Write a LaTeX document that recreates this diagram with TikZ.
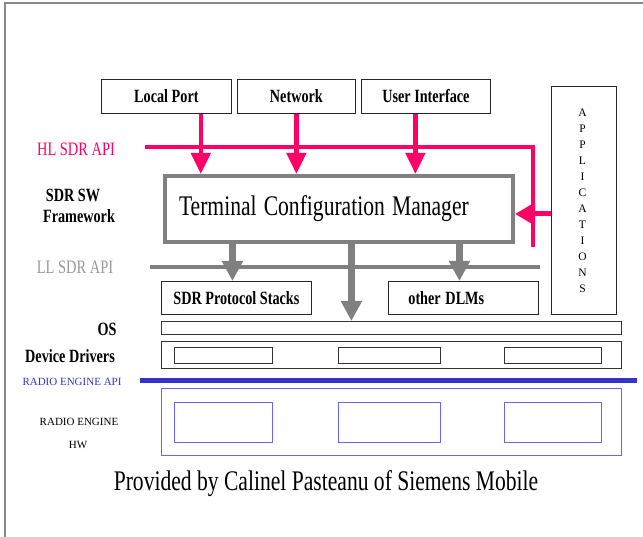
\documentclass[tikz,border=0pt]{standalone}
\usepackage{fontspec}
\usepackage{graphicx}
\setmainfont{Liberation Serif}
\newcommand{\cz}[1]{\scalebox{0.76}[1]{#1}}
\usetikzlibrary{arrows.meta}
\definecolor{hlpink}{HTML}{FF0066}
\definecolor{llgray}{HTML}{808080}
\definecolor{llgraytxt}{HTML}{999999}
\definecolor{reblue}{HTML}{3333CC}
\definecolor{rebox}{HTML}{6666EE}
\definecolor{framegray}{HTML}{888888}
\begin{document}
\begin{tikzpicture}[x=1pt,y=-1pt,
  boldlbl/.style={font=\bfseries\fontsize{18.7}{20}\selectfont, inner sep=0pt, anchor=base},
  sidelbl/.style={font=\fontsize{19}{20}\selectfont, inner sep=0pt, anchor=base},
  smalllbl/.style={font=\fontsize{11}{12}\selectfont, inner sep=0pt, anchor=base},
  sbox/.style={draw=black!85, line width=0.8pt, anchor=north west, inner sep=0pt,
    font=\bfseries\fontsize{18.7}{20}\selectfont},
  ibox/.style={draw=black!80, line width=0.8pt, anchor=north west, inner sep=0pt, minimum height=16pt},
  rbox/.style={draw=rebox, line width=0.9pt, anchor=north west, inner sep=0pt, minimum height=40pt},
  pinkarr/.style={draw=hlpink, line width=4.5pt, -{Triangle[width=19pt,length=21pt]}},
  grayarr/.style={draw=llgray, line width=7pt, -{Triangle[width=20pt,length=20pt]}},
]
\useasboundingbox (0,0) rectangle (643,537);
\fill[white] (0,0) rectangle (643,537);
% frame
\draw[framegray, line width=1.5pt] (5,537) -- (5,3) -- (643,3);

% top boxes
\node[sbox, minimum width=130pt, minimum height=34pt] (lp) at (101,79) {\cz{Local Port}};
\node[sbox, minimum width=118pt, minimum height=34pt] (net) at (237,79) {\cz{Network}};
\node[sbox, minimum width=129pt, minimum height=34pt] (ui) at (361,79) {\cz{User Interface}};

% applications
\node[draw=black!85, line width=0.8pt, anchor=north west, inner sep=0pt,
  minimum width=65pt, minimum height=228pt] (app) at (551,86) {};
\node[font=\fontsize{11.5}{16}\selectfont, align=center, inner sep=0pt, anchor=north]
  (apptxt) at (582.5,108.5) {A\\P\\P\\L\\I\\C\\A\\T\\I\\O\\N\\S};

% TCM
\node[draw=llgray, line width=4pt, anchor=north west, inner xsep=14pt, inner ysep=0pt,
  minimum width=348pt, minimum height=66pt, text width=320pt, align=left,
  font=\fontsize{28.4}{30}\selectfont] (tcm) at (163,174) {\cz{Terminal Configuration Manager}};

% HL SDR API line
\coordinate (hlA) at (145,147);
\coordinate (hlB) at (533,147);
\coordinate (hlC) at (533,247);
\draw[hlpink, line width=4pt] (hlA) -- (hlB) -- (hlC);
\node[sidelbl, text=hlpink] (hl) at (76,156) {\cz{HL SDR API}};

% pink arrows
\path ([xshift=-31pt]lp.south east) coordinate (lpA);
\draw[pinkarr] (lpA) -- (lpA |- tcm.north);
\draw[pinkarr] (net.south) -- (net.south |- tcm.north);
\path ([xshift=-10.5pt]ui.south) coordinate (uiA);
\draw[pinkarr] (uiA) -- (uiA |- tcm.north);
\coordinate (appy) at (0,214);
\draw[draw=hlpink, line width=5pt, -{Triangle[width=22pt,length=20pt]}] (app.west |- appy) -- (tcm.east |- appy);

% side labels
\node[boldlbl] (sw1) at (73,202) {\cz{SDR SW}};
\node[boldlbl] (sw2) at (79,223) {\cz{Framework}};
\node[sidelbl, text=llgraytxt] (ll) at (75,274) {\cz{LL SDR API}};

% LL SDR API line
\coordinate (llA) at (150,267);
\coordinate (llB) at (540,267);
\draw[llgray, line width=4.5pt] (llA) -- (llB);

% DLM boxes
\node[sbox, minimum width=150pt, minimum height=33pt] (ps) at (161,281) {\cz{SDR Protocol Stacks}};
\node[sbox, minimum width=150pt, minimum height=33pt, text width=110pt, align=left, inner xsep=20pt] (dlm) at (388,281) {\cz{other DLMs}};

% OS and drivers
\node[ibox, minimum width=460pt, minimum height=13pt] (os) at (161,321) {};
\node[ibox, minimum width=460pt, minimum height=27pt] (dd) at (161,341) {};
\node[ibox, minimum width=98pt] (dd1) at (174,347) {};
\node[ibox, minimum width=102pt] (dd2) at (338,347) {};
\node[ibox, minimum width=97pt] (dd3) at (504,347) {};
\node[boldlbl] (oslbl) at (107,336) {\cz{OS}};
\node[boldlbl] (ddlbl) at (70,363) {\cz{Device Drivers}};

% gray arrows
\path ([xshift=-4pt]ps.north) coordinate (g1);
\draw[grayarr] (tcm.south -| g1) -- (g1);
\path ([xshift=-40pt]os.north) coordinate (g2);
\draw[grayarr] (tcm.south -| g2) -- (g2);
\path ([xshift=-4pt]dlm.north) coordinate (g3);
\draw[grayarr] (tcm.south -| g3) -- (g3);

% radio engine API
\coordinate (reA) at (140,381);
\coordinate (reB) at (637,381);
\draw[reblue, line width=5pt] (reA) -- (reB);
\node[smalllbl, text=reblue] (reapi) at (72,385) {RADIO ENGINE API};

% radio engine hw
\node[draw=rebox, line width=0.9pt, anchor=north west, inner sep=0pt,
  minimum width=460pt, minimum height=67pt] (rehw) at (161,388) {};
\node[rbox, minimum width=98pt] (re1) at (174,402) {};
\node[rbox, minimum width=102pt] (re2) at (338,402) {};
\node[rbox, minimum width=97pt] (re3) at (504,402) {};
\node[smalllbl] (relbl) at (79,425) {RADIO ENGINE};
\node[smalllbl] (hwlbl) at (78,448) {HW};

% caption
\node[font=\fontsize{28.4}{30}\selectfont, inner sep=0pt, anchor=base] (cap) at (326,490)
  {\cz{Provided by Calinel Pasteanu of Siemens Mobile}};
\end{tikzpicture}
\end{document}
